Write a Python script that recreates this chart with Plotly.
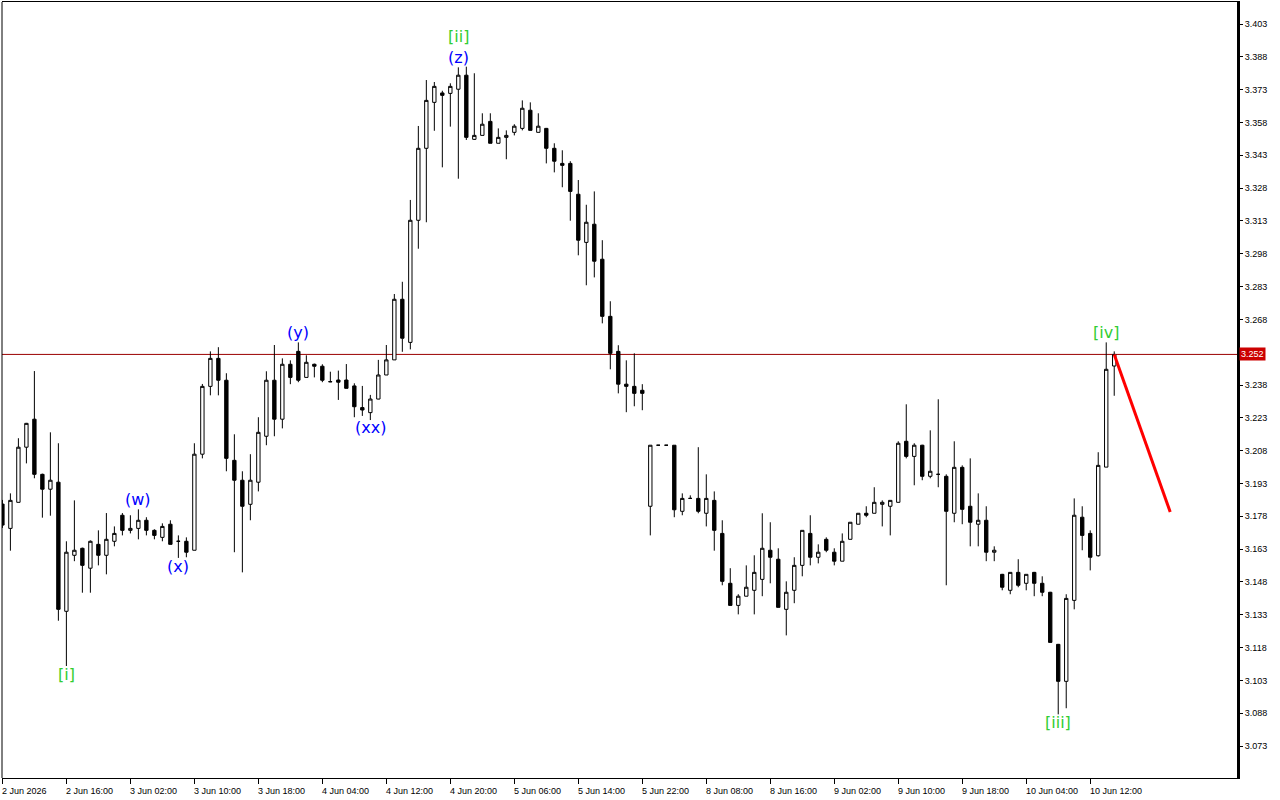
import plotly.graph_objects as go

# ---------------- data ----------------
bar_index = list(range(140))

opens = [
    3.1836, 3.1725, 3.1844, 3.2096, 3.2224, 3.1972, 3.1904, 3.1936, 3.1346, 3.1602,
    3.1634, 3.1543, 3.1652, 3.1602, 3.1666, 3.1785, 3.1716, 3.1725, 3.1762, 3.1716,
    3.1684, 3.1744, 3.1666, 3.1666, 3.1625, 3.2064, 3.2374, 3.2502, 3.2402, 3.2036,
    3.1945, 3.1835, 3.1936, 3.2146, 3.2402, 3.2224, 3.2475, 3.2534, 3.2415, 3.2475,
    3.2466, 3.2396, 3.2403, 3.2403, 3.2376, 3.2277, 3.2254, 3.2316, 3.2426, 3.2495,
    3.2772, 3.2575, 3.3133, 3.3462, 3.3672, 3.3715, 3.3713, 3.3732, 3.3796, 3.3503,
    3.3521, 3.3585, 3.3485, 3.3512, 3.3535, 3.3553, 3.3636, 3.3535, 3.3553, 3.3462,
    3.3393, 3.3393, 3.3252, 3.3032, 3.3115, 3.2955, 3.2694, 3.2534, 3.2384, 3.2374,
    3.2356, 3.1826, 3.2105, 3.2105, 3.2105, 3.1803, 3.1862, 3.1862, 3.1794, 3.1853,
    3.1702, 3.1474, 3.1373, 3.1415, 3.1442, 3.1492, 3.1625, 3.1584, 3.1355, 3.1442,
    3.1556, 3.1702, 3.1593, 3.1675, 3.1616, 3.1575, 3.1675, 3.1744, 3.1794, 3.1794,
    3.1835, 3.1826, 3.1844, 3.2123, 3.2054, 3.2105, 3.1963, 3.1972, 3.1963, 3.1794,
    3.2004, 3.1826, 3.1744, 3.1762, 3.1616, 3.1515, 3.1442, 3.1524, 3.1474, 3.1524,
    3.1474, 3.1433, 3.1195, 3.1026, 3.1396, 3.1776, 3.1702, 3.1600, 3.2005, 3.2467,
]

highs = [
    3.1855, 3.1885, 3.2137, 3.2207, 3.2444, 3.1975, 3.2164, 3.2114, 3.1666, 3.1853,
    3.1637, 3.1670, 3.1716, 3.1795, 3.1734, 3.1795, 3.1785, 3.1812, 3.1776, 3.1721,
    3.1748, 3.1762, 3.1693, 3.1684, 3.2114, 3.2385, 3.2534, 3.2553, 3.2434, 3.2155,
    3.1986, 3.2064, 3.2233, 3.2443, 3.2563, 3.2502, 3.2493, 3.2575, 3.2516, 3.2478,
    3.2475, 3.2441, 3.2446, 3.2476, 3.2388, 3.2376, 3.2335, 3.2495, 3.2563, 3.2796,
    3.2852, 3.3226, 3.3564, 3.3774, 3.3765, 3.3725, 3.3759, 3.3832, 3.3835, 3.3805,
    3.3622, 3.3622, 3.3553, 3.3544, 3.3572, 3.3681, 3.3672, 3.3622, 3.3555, 3.3485,
    3.3453, 3.3403, 3.3317, 3.3204, 3.3265, 3.3042, 3.2763, 3.2562, 3.2493, 3.2525,
    3.2384, 3.2105, 3.2105, 3.2105, 3.2105, 3.1885, 3.1876, 3.2096, 3.1972, 3.1894,
    3.1762, 3.1543, 3.1424, 3.1556, 3.1602, 3.1794, 3.1753, 3.1634, 3.1483, 3.1593,
    3.1716, 3.1785, 3.1652, 3.1684, 3.1634, 3.1702, 3.1753, 3.1794, 3.1826, 3.1913,
    3.1853, 3.1853, 3.2123, 3.2292, 3.2114, 3.2107, 3.2173, 3.2315, 3.1972, 3.2123,
    3.2013, 3.2045, 3.1885, 3.1826, 3.1643, 3.1517, 3.1524, 3.1584, 3.1515, 3.1526,
    3.1506, 3.1435, 3.1197, 3.1424, 3.1862, 3.1826, 3.1716, 3.2073, 3.2575, 3.2534,
]

lows = [
    3.1727, 3.1623, 3.1844, 3.2022, 3.1954, 3.1774, 3.1783, 3.1303, 3.1096, 3.1575,
    3.1431, 3.1431, 3.1556, 3.1515, 3.1643, 3.1693, 3.1702, 3.1675, 3.1693, 3.1675,
    3.1666, 3.1652, 3.1590, 3.1593, 3.1625, 3.2045, 3.2333, 3.2333, 3.1986, 3.1616,
    3.1524, 3.1762, 3.1894, 3.2105, 3.2146, 3.2182, 3.2384, 3.2393, 3.2415, 3.2415,
    3.2393, 3.2393, 3.2312, 3.2365, 3.2233, 3.2239, 3.2220, 3.2315, 3.2426, 3.2495,
    3.2532, 3.2543, 3.3003, 3.3124, 3.3542, 3.3375, 3.3561, 3.3323, 3.3500, 3.3500,
    3.3521, 3.3485, 3.3485, 3.3412, 3.3521, 3.3544, 3.3544, 3.3535, 3.3393, 3.3352,
    3.3284, 3.3131, 3.2973, 3.2836, 3.2872, 3.2662, 3.2452, 3.2342, 3.2256, 3.2283,
    3.2265, 3.1693, 3.2105, 3.2105, 3.1776, 3.1785, 3.1862, 3.1794, 3.1734, 3.1623,
    3.1465, 3.1373, 3.1332, 3.1415, 3.1332, 3.1415, 3.1474, 3.1364, 3.1236, 3.1383,
    3.1506, 3.1556, 3.1565, 3.1616, 3.1556, 3.1575, 3.1675, 3.1744, 3.1776, 3.1794,
    3.1734, 3.1693, 3.1844, 3.2045, 3.1922, 3.1945, 3.1954, 3.1913, 3.1465, 3.1753,
    3.1744, 3.1643, 3.1643, 3.1575, 3.1575, 3.1442, 3.1424, 3.1456, 3.1442, 3.1415,
    3.1415, 3.1204, 3.0875, 3.0903, 3.1355, 3.1625, 3.1533, 3.1596, 3.2005, 3.2331,
]

closes = [
    3.1740, 3.1853, 3.2096, 3.2205, 3.1972, 3.1904, 3.1945, 3.1355, 3.1616, 3.1625,
    3.1556, 3.1666, 3.1602, 3.1675, 3.1702, 3.1716, 3.1725, 3.1762, 3.1716, 3.1693,
    3.1734, 3.1652, 3.1666, 3.1616, 3.2064, 3.2374, 3.2502, 3.2402, 3.2045, 3.1945,
    3.1826, 3.1945, 3.2164, 3.2402, 3.2224, 3.2475, 3.2415, 3.2402, 3.2484, 3.2466,
    3.2402, 3.2395, 3.2393, 3.2365, 3.2281, 3.2266, 3.2316, 3.2426, 3.2495, 3.2772,
    3.2594, 3.3133, 3.3462, 3.3681, 3.3745, 3.3704, 3.3745, 3.3796, 3.3512, 3.3521,
    3.3572, 3.3485, 3.3512, 3.3521, 3.3563, 3.3645, 3.3544, 3.3563, 3.3462, 3.3403,
    3.3384, 3.3265, 3.3042, 3.3124, 3.2946, 3.2694, 3.2525, 3.2384, 3.2374, 3.2342,
    3.2342, 3.2105, 3.2105, 3.2105, 3.1810, 3.1862, 3.1862, 3.1803, 3.1862, 3.1716,
    3.1483, 3.1373, 3.1415, 3.1456, 3.1524, 3.1634, 3.1593, 3.1364, 3.1433, 3.1556,
    3.1716, 3.1593, 3.1616, 3.1625, 3.1575, 3.1666, 3.1753, 3.1794, 3.1785, 3.1844,
    3.1844, 3.1853, 3.2114, 3.2054, 3.2105, 3.1963, 3.1986, 3.1972, 3.1803, 3.2004,
    3.1812, 3.1753, 3.1762, 3.1616, 3.1625, 3.1456, 3.1524, 3.1465, 3.1515, 3.1474,
    3.1433, 3.1204, 3.1026, 3.1405, 3.1785, 3.1693, 3.1593, 3.2013, 3.2452, 3.2520,
]

time_tick_bars = [0, 8, 16, 24, 32, 40, 48, 56, 64, 72, 80, 88, 96, 104, 112, 120, 128, 136]
time_tick_labels = [
    "2 Jun 2026", "2 Jun 16:00", "3 Jun 02:00", "3 Jun 10:00", "3 Jun 18:00",
    "4 Jun 04:00", "4 Jun 12:00", "4 Jun 20:00", "5 Jun 06:00", "5 Jun 14:00",
    "5 Jun 22:00", "8 Jun 08:00", "8 Jun 16:00", "9 Jun 02:00", "9 Jun 10:00",
    "9 Jun 18:00", "10 Jun 04:00", "10 Jun 12:00",
]

price_ticks = [3.073, 3.088, 3.103, 3.118, 3.133, 3.148, 3.163, 3.178, 3.193,
               3.208, 3.223, 3.238, 3.268, 3.283, 3.298, 3.313, 3.328, 3.343,
               3.358, 3.373, 3.388, 3.403]
price_tick_labels = ["3.073", "3.088", "3.103", "3.118", "3.133", "3.148", "3.163",
                     "3.178", "3.193", "3.208", "3.223", "3.238", "3.268", "3.283",
                     "3.298", "3.313", "3.328", "3.343", "3.358", "3.373", "3.388",
                     "3.403"]

bid_price = 3.252
bid_label = "3.252"

forecast_bars = [139, 146]
forecast_prices = [3.252, 3.180]

green_wave_text = ["[i]", "[ii]", "[iii]", "[iv]"]
green_wave_bars = [8, 57, 132, 138]
green_wave_prices = [3.1055, 3.3971, 3.0840, 3.2618]

blue_wave_text = ["(w)", "(x)", "(y)", "(xx)", "(z)"]
blue_wave_bars = [17, 22, 37, 46, 57]
blue_wave_prices = [3.1855, 3.1553, 3.2618, 3.2184, 3.3875]

x_range = [-0.05, 154.35]
y_range = [3.05842, 3.41306]

# ---------------- figure ----------------
fig = go.Figure()

fig.add_trace(go.Candlestick(
    x=bar_index, open=opens, high=highs, low=lows, close=closes,
    increasing=dict(fillcolor="#ffffff", line=dict(color="#000000", width=1)),
    decreasing=dict(fillcolor="#000000", line=dict(color="#000000", width=1)),
    whiskerwidth=0, hoverinfo="skip", showlegend=False,
))

fig.add_trace(go.Scatter(
    x=forecast_bars, y=forecast_prices, mode="lines",
    line=dict(color="#ff0000", width=3), hoverinfo="skip", showlegend=False,
))

shapes = [
    dict(type="line", xref="paper", yref="y", x0=0, x1=1, y0=bid_price, y1=bid_price,
         line=dict(color="#9a0000", width=1), layer="below"),
    dict(type="line", xref="paper", yref="paper", x0=0, x1=0, y0=0, y1=1,
         line=dict(color="#000000", width=1)),
]

annotations = []
for t, b, p in zip(green_wave_text, green_wave_bars, green_wave_prices):
    annotations.append(dict(x=b, y=p, xref="x", yref="y", text=t, showarrow=False,
                            font=dict(family="DejaVu Sans", size=16, color="#32cd32"),
                            xanchor="center", yanchor="middle"))
for t, b, p in zip(blue_wave_text, blue_wave_bars, blue_wave_prices):
    annotations.append(dict(x=b, y=p, xref="x", yref="y", text=t, showarrow=False,
                            font=dict(family="DejaVu Sans", size=16, color="#0000ff"),
                            xanchor="center", yanchor="middle"))
for b, t in zip(time_tick_bars, time_tick_labels):
    annotations.append(dict(x=b, y=0, xref="x", yref="paper", text=t, showarrow=False,
                            font=dict(family="Liberation Sans, Arial", size=9, color="#000000"),
                            xanchor="left", yanchor="top", yshift=-6, xshift=-2))
annotations.append(dict(x=1, y=bid_price, xref="paper", yref="y", text=bid_label,
                        showarrow=False, xanchor="left", yanchor="middle", xshift=2,
                        bgcolor="#cc0000", borderpad=1,
                        font=dict(family="Liberation Sans, Arial", size=9, color="#ffffff")))

fig.update_layout(
    width=1280, height=800,
    margin=dict(l=2, r=43, t=2, b=22, pad=0),
    paper_bgcolor="#ffffff", plot_bgcolor="#ffffff",
    boxgap=0.4,
    shapes=shapes, annotations=annotations,
    showlegend=False,
    xaxis=dict(range=x_range, tickvals=time_tick_bars, showticklabels=False,
               ticks="outside", ticklen=5, tickcolor="#000000", tickwidth=1,
               showline=True, linecolor="#000000", linewidth=1, mirror=True,
               showgrid=False, zeroline=False, rangeslider=dict(visible=False),
               fixedrange=True),
    yaxis=dict(range=y_range, side="right", tickvals=price_ticks, ticktext=price_tick_labels,
               ticks="outside", ticklen=3, tickcolor="#000000", tickwidth=1,
               tickfont=dict(family="Liberation Sans, Arial", size=9, color="#000000"),
               showline=True, linecolor="#000000", linewidth=3,
               showgrid=False, zeroline=False, fixedrange=True),
)

fig.write_html(
    "out.html",
    config={"displayModeBar": False},
    post_script="document.body.style.margin='0';document.body.style.overflow='hidden';",
)
